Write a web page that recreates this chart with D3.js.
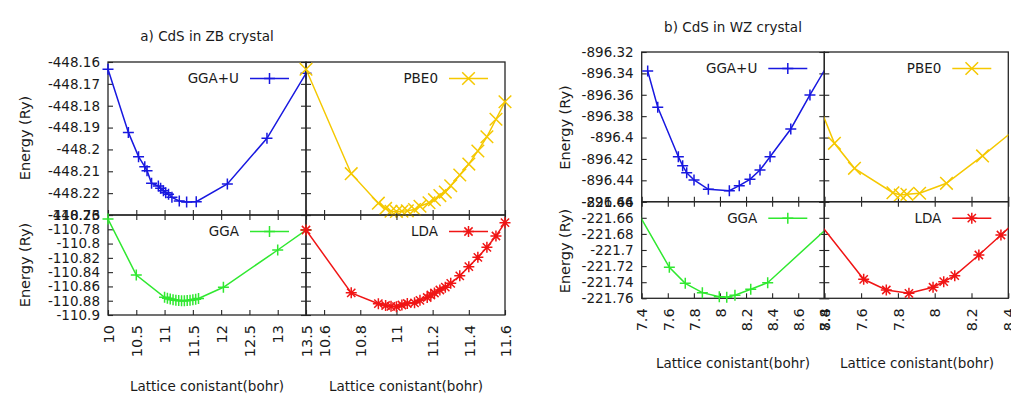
<!DOCTYPE html>
<html><head><meta charset="utf-8">
<script src="https://cdn.jsdelivr.net/npm/d3@7"></script>
<style>
body{margin:0;background:#fff}
text{font-family:"DejaVu Sans",sans-serif;fill:#1a1a1a}
</style>
</head><body>
<svg id="c" width="1011" height="396"></svg>
<script>
// ---------- DATA ----------
// a) CdS in ZB crystal
const zbGgaUX = [10.0, 10.36, 10.54, 10.65, 10.69, 10.77, 10.89, 10.93, 10.98, 11.02, 11.07, 11.13, 11.26, 11.39, 11.56, 12.11, 12.81, 13.5];
const zbGgaUE = [-448.1633, -448.1922, -448.2033, -448.2079, -448.2097, -448.2155, -448.2167, -448.2178, -448.2189, -448.2198, -448.2205, -448.2219, -448.2236, -448.2240, -448.2239, -448.2158, -448.1949, -448.1652];
const zbPbe0X = [10.5, 10.75, 10.9, 10.94, 10.97, 11.0, 11.03, 11.06, 11.1, 11.13, 11.18, 11.21, 11.24, 11.27, 11.3, 11.35, 11.4, 11.45, 11.5, 11.55, 11.6];
const zbPbe0E = [0.0667, 0.0189, 0.0054, 0.0030, 0.0017, 0.0016, 0.0017, 0.0019, 0.0025, 0.0040, 0.0056, 0.0070, 0.0089, 0.0105, 0.0134, 0.0183, 0.0233, 0.0293, 0.0358, 0.0438, 0.0518];
const zbGgaX = [10.0, 10.5, 11.0, 11.05, 11.1, 11.15, 11.2, 11.25, 11.3, 11.35, 11.4, 11.45, 11.5, 11.55, 11.6, 12.04, 13.0, 13.5];
const zbGgaE = [-110.7656, -110.844, -110.8752, -110.8765, -110.8776, -110.8785, -110.8792, -110.8797, -110.8800, -110.8800, -110.8798, -110.8794, -110.8788, -110.8780, -110.8768, -110.8612, -110.809, -110.781];
const zbLdaX = [10.5, 10.75, 10.9, 10.94, 10.97, 11.0, 11.03, 11.06, 11.1, 11.13, 11.17, 11.19, 11.21, 11.24, 11.27, 11.3, 11.35, 11.4, 11.45, 11.5, 11.55, 11.6];
const zbLdaE = [0.1190, 0.0310, 0.0158, 0.0133, 0.0122, 0.0116, 0.0140, 0.0161, 0.0171, 0.0206, 0.0245, 0.0280, 0.0308, 0.0350, 0.0389, 0.0444, 0.0549, 0.0676, 0.0808, 0.0948, 0.1106, 0.1292];

// b) CdS in WZ crystal
const wzGgaUX = [7.446, 7.523, 7.681, 7.714, 7.745, 7.801, 7.911, 8.072, 8.148, 8.23, 8.307, 8.384, 8.543, 8.69, 8.82];
const wzGgaUE = [-896.3378, -896.3717, -896.4179, -896.4264, -896.4329, -896.4397, -896.4484, -896.4497, -896.445, -896.4391, -896.4304, -896.4179, -896.392, -896.3602, -896.3332];
const wzPbe0X = [7.35, 7.455, 7.564, 7.773, 7.813, 7.849, 7.918, 8.064, 8.26, 8.5];
const wzPbe0E = [0.0995, 0.0546, 0.0312, 0.0084, 0.0063, 0.0069, 0.0079, 0.0172, 0.0428, 0.0764];
const wzGgaX = [7.35, 7.612, 7.734, 7.865, 7.995, 8.052, 8.115, 8.236, 8.366, 8.82];
const wzGgaE = [-221.6478, -221.7215, -221.7414, -221.753, -221.758, -221.7588, -221.7563, -221.7488, -221.7406, -221.6733];
const wzLdaX = [7.35, 7.614, 7.737, 7.86, 7.991, 8.049, 8.109, 8.24, 8.36, 8.8];
const wzLdaE = [0.1002, 0.0236, 0.0103, 0.0062, 0.0137, 0.0206, 0.0281, 0.0538, 0.0786, 0.171];

// tick values
const zbXTicksLeft = [10, 10.5, 11, 11.5, 12, 12.5, 13, 13.5];
const zbXTicksRight = [10.6, 10.8, 11, 11.2, 11.4, 11.6];
const zbYTicksGgaU = [-448.16, -448.17, -448.18, -448.19, -448.2, -448.21, -448.22, -448.23];
const zbYTicksGga = [-110.76, -110.78, -110.8, -110.82, -110.84, -110.86, -110.88, -110.9];
const zbYTicksPbe0 = [0, 0.01, 0.02, 0.03, 0.04, 0.05, 0.06, 0.07];
const zbYTicksLda = [0, 0.02, 0.04, 0.06, 0.08, 0.1, 0.12, 0.14];
const wzXTicksLeft = [7.4, 7.6, 7.8, 8, 8.2, 8.4, 8.6, 8.8];
const wzXTicksRight = [7.4, 7.6, 7.8, 8, 8.2, 8.4];
const wzYTicksGgaU = [-896.32, -896.34, -896.36, -896.38, -896.4, -896.42, -896.44, -896.46];
const wzYTicksGga = [-221.64, -221.66, -221.68, -221.7, -221.72, -221.74, -221.76];
const wzYTicksPbe0 = [0, 0.02, 0.04, 0.06, 0.08, 0.1, 0.12, 0.14];
const wzYTicksLda = [0, 0.02, 0.04, 0.06, 0.08, 0.1, 0.12];

const titles = ["a) CdS in ZB crystal", "b) CdS in WZ crystal"];
const yTitle = "Energy (Ry)";
const xTitle = "Lattice conistant(bohr)";

// ---------- DRAW ----------
const svg = d3.select("#c");
const defs = svg.append("defs");
const fmt = v => String(+(+v).toFixed(3));
const TICK = 5;
const BORDER = "#262626";
let clipId = 0;

function markerPath(type, h) {
  const p = d3.path();
  if (type === "plus" || type === "star") {
    p.moveTo(-h, 0); p.lineTo(h, 0); p.moveTo(0, -h); p.lineTo(0, h);
  }
  if (type === "cross" || type === "star") {
    const d = type === "star" ? h * 0.75 : h;
    p.moveTo(-d, -d); p.lineTo(d, d); p.moveTo(-d, d); p.lineTo(d, -d);
  }
  return p.toString();
}

function subplot(c) {
  const [x0, y0, x1, y1] = c.box;
  const x = d3.scaleLinear().domain(c.xDomain).range([x0, x1]);
  const y = d3.scaleLinear().domain(c.yDomain).range([y1, y0]);
  const g = svg.append("g");

  // bottom axis
  const ab = g.append("g").attr("transform", `translate(0,${y1})`)
    .call(d3.axisBottom(x).tickValues(c.xTicks).tickSizeInner(-TICK).tickSizeOuter(0)
      .tickPadding(10).tickFormat(c.xLabels ? fmt : () => ""));
  ab.select(".domain").remove();
  ab.selectAll("line").attr("stroke", BORDER).attr("stroke-width", 1.1);
  ab.selectAll("text").attr("transform", "rotate(-90)").attr("text-anchor", "end")
    .attr("x", -10).attr("y", 0).attr("dy", "0.36em")
    .style("font-size", "14.5px").style("font-family", '"DejaVu Sans",sans-serif').attr("fill", "#1a1a1a");

  if (c.topTicks) {
    const at = g.append("g").attr("transform", `translate(0,${y0})`)
      .call(d3.axisTop(x).tickValues(c.xTicks).tickSizeInner(-TICK).tickSizeOuter(0).tickFormat(() => ""));
    at.select(".domain").remove();
    at.selectAll("line").attr("stroke", BORDER).attr("stroke-width", 1.1);
  }
  // left axis
  const al = g.append("g").attr("transform", `translate(${x0},0)`)
    .call(d3.axisLeft(y).tickValues(c.yTicks).tickSizeInner(-TICK).tickSizeOuter(0)
      .tickPadding(8).tickFormat(c.yLabels ? fmt : () => ""));
  al.select(".domain").remove();
  al.selectAll("line").attr("stroke", BORDER).attr("stroke-width", 1.1);
  al.selectAll("text").style("font-size", "13.5px").style("font-family", '"DejaVu Sans",sans-serif').attr("fill", "#1a1a1a");
  if (c.rightTicks) {
    const ar = g.append("g").attr("transform", `translate(${x1},0)`)
      .call(d3.axisRight(y).tickValues(c.yTicks).tickSizeInner(-TICK).tickSizeOuter(0).tickFormat(() => ""));
    ar.select(".domain").remove();
    ar.selectAll("line").attr("stroke", BORDER).attr("stroke-width", 1.1);
  }
  // border
  g.append("rect").attr("x", x0).attr("y", y0).attr("width", x1 - x0).attr("height", y1 - y0)
    .attr("fill", "none").attr("stroke", BORDER).attr("stroke-width", 1.3);

  // data
  const id = "clip" + (clipId++);
  defs.append("clipPath").attr("id", id).append("rect")
    .attr("x", x0).attr("y", y0).attr("width", x1 - x0).attr("height", y1 - y0);
  const pts = c.xs.map((v, i) => [v, c.ys[i]]);
  g.append("path").datum(pts).attr("clip-path", `url(#${id})`)
    .attr("d", d3.line().x(d => x(d[0])).y(d => y(d[1])))
    .attr("fill", "none").attr("stroke", c.color).attr("stroke-width", 1.5);
  const eps = 1e-6;
  const inside = pts.filter(d => d[0] >= c.xDomain[0] - eps && d[0] <= c.xDomain[1] + eps &&
                                 d[1] >= c.yDomain[0] - eps && d[1] <= c.yDomain[1] + eps);
  const mp = markerPath(c.marker, c.marker === "cross" ? 6.3 : 5.5);
  g.selectAll(null).data(inside).enter().append("path")
    .attr("transform", d => `translate(${x(d[0])},${y(d[1])})`)
    .attr("d", mp).attr("fill", "none").attr("stroke", c.color).attr("stroke-width", 1.5);

  // legend
  const ly = y0 + 16.5;
  g.append("text").attr("x", x1 - 67).attr("y", ly).attr("dy", "0.36em").attr("text-anchor", "end")
    .style("font-size", "13.5px").text(c.name);
  g.append("line").attr("x1", x1 - 56).attr("x2", x1 - 17).attr("y1", ly).attr("y2", ly)
    .attr("stroke", c.color).attr("stroke-width", 1.5);
  g.append("path").attr("transform", `translate(${x1 - 36.5},${ly})`).attr("d", mp)
    .attr("fill", "none").attr("stroke", c.color).attr("stroke-width", 1.5);
}

const BLUE = "#1818e0", GOLD = "#f5c800", GREEN = "#30e830", RED = "#f01515";

// panel a geometry
const aL = 108, aM = 306, aR = 505, aT = 62, aMid = 215, aB = 315;
subplot({box: [aL, aT, aM, aMid], xDomain: [10, 13.5], yDomain: [-448.23, -448.16], xTicks: zbXTicksLeft, yTicks: zbYTicksGgaU,
  xLabels: false, yLabels: true, rightTicks: true, topTicks: false, xs: zbGgaUX, ys: zbGgaUE, color: BLUE, marker: "plus", name: "GGA+U"});
subplot({box: [aM, aT, aR, aMid], xDomain: [10.5, 11.6], yDomain: [0, 0.07], xTicks: zbXTicksRight, yTicks: zbYTicksPbe0,
  xLabels: false, yLabels: false, rightTicks: false, topTicks: false, xs: zbPbe0X, ys: zbPbe0E, color: GOLD, marker: "cross", name: "PBE0"});
subplot({box: [aL, aMid, aM, aB], xDomain: [10, 13.5], yDomain: [-110.9, -110.76], xTicks: zbXTicksLeft, yTicks: zbYTicksGga,
  xLabels: true, yLabels: true, rightTicks: true, topTicks: true, xs: zbGgaX, ys: zbGgaE, color: GREEN, marker: "plus", name: "GGA"});
subplot({box: [aM, aMid, aR, aB], xDomain: [10.5, 11.6], yDomain: [0, 0.14], xTicks: zbXTicksRight, yTicks: zbYTicksLda,
  xLabels: true, yLabels: false, rightTicks: false, topTicks: true, xs: zbLdaX, ys: zbLdaE, color: RED, marker: "star", name: "LDA"});

// panel b geometry
const bL = 641.7, bM = 824.3, bR = 1008.3, bT = 52, bMid = 201.7, bB = 298.3;
subplot({box: [bL, bT, bM, bMid], xDomain: [7.4, 8.8], yDomain: [-896.46, -896.32], xTicks: wzXTicksLeft, yTicks: wzYTicksGgaU,
  xLabels: false, yLabels: true, rightTicks: true, topTicks: false, xs: wzGgaUX, ys: wzGgaUE, color: BLUE, marker: "plus", name: "GGA+U"});
subplot({box: [bM, bT, bR, bMid], xDomain: [7.4, 8.4], yDomain: [0, 0.14], xTicks: wzXTicksRight, yTicks: wzYTicksPbe0,
  xLabels: false, yLabels: false, rightTicks: false, topTicks: false, xs: wzPbe0X, ys: wzPbe0E, color: GOLD, marker: "cross", name: "PBE0"});
subplot({box: [bL, bMid, bM, bB], xDomain: [7.4, 8.8], yDomain: [-221.76, -221.64], xTicks: wzXTicksLeft, yTicks: wzYTicksGga,
  xLabels: true, yLabels: true, rightTicks: true, topTicks: true, xs: wzGgaX, ys: wzGgaE, color: GREEN, marker: "plus", name: "GGA"});
subplot({box: [bM, bMid, bR, bB], xDomain: [7.4, 8.4], yDomain: [0, 0.12], xTicks: wzXTicksRight, yTicks: wzYTicksLda,
  xLabels: true, yLabels: false, rightTicks: false, topTicks: true, xs: wzLdaX, ys: wzLdaE, color: RED, marker: "star", name: "LDA"});

// titles and axis labels
function label(txt, x, y, rot, size) {
  svg.append("text").attr("transform", `translate(${x},${y})` + (rot ? " rotate(-90)" : ""))
    .attr("text-anchor", "middle").attr("dy", "0.36em").style("font-size", size).text(txt);
}
label(titles[0], 207, 36, false, "13.5px");
label(titles[1], 733, 27.5, false, "13.5px");
label(yTitle, 25, 138, true, "14.5px");
label(yTitle, 25, 265, true, "14.5px");
label(yTitle, 565, 127.5, true, "14.5px");
label(yTitle, 565, 251, true, "14.5px");
label(xTitle, 207, 386, false, "13.5px");
label(xTitle, 406, 386, false, "13.5px");
label(xTitle, 733, 363, false, "13.5px");
label(xTitle, 917, 363, false, "13.5px");
</script>
</body></html>
